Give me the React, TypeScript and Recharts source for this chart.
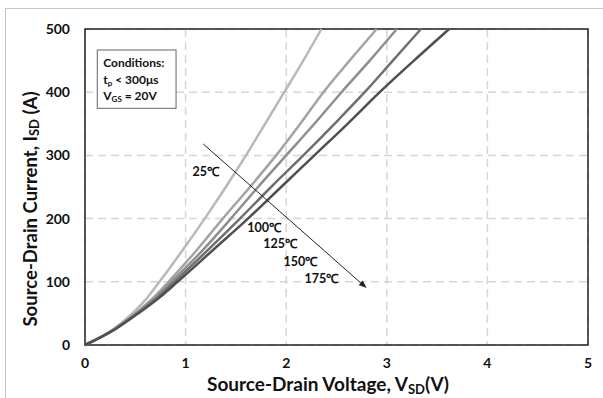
import React from 'react';
import {
    LineChart,
    Line,
    XAxis,
    YAxis,
    CartesianGrid,
    ReferenceArea,
    ReferenceLine,
    ReferenceDot
} from 'recharts';

// source-drain current steps (A), shared by all curves
const currents = [0, 25, 50, 75, 100, 150, 200, 250, 300, 350, 400, 450, 500];

// V_SD (V) at the currents above
const v25 = [0, 0.28, 0.47, 0.62, 0.74, 0.97, 1.19, 1.4, 1.6, 1.79, 1.98, 2.17, 2.35];
const v100 = [0, 0.29, 0.5, 0.68, 0.83, 1.11, 1.37, 1.64, 1.9, 2.14, 2.37, 2.63, 2.9];
const v125 = [0, 0.29, 0.51, 0.7, 0.86, 1.17, 1.45, 1.72, 2.0, 2.28, 2.55, 2.83, 3.1];
const v150 = [0, 0.3, 0.52, 0.72, 0.89, 1.22, 1.54, 1.85, 2.17, 2.48, 2.78, 3.06, 3.34];
const v175 = [0, 0.3, 0.53, 0.74, 0.92, 1.27, 1.62, 1.95, 2.28, 2.61, 2.93, 3.27, 3.62];

const xTicks = [0, 1, 2, 3, 4, 5];
const yTicks = [0, 100, 200, 300, 400, 500];

const tempLabels = ['25℃', '100℃', '125℃', '150℃', '175℃'];
const labelX = [1.2, 1.78, 1.94, 2.14, 2.35];
const labelY = [275, 186, 161, 132, 105];

const FONT = 'Lato, "Liberation Sans", sans-serif';

const series = [
    { name: '25', v: v25, color: '#b9b9b9' },
    { name: '100', v: v100, color: '#a3a3a3' },
    { name: '125', v: v125, color: '#8e8e8e' },
    { name: '150', v: v150, color: '#6f6f6f' },
    { name: '175', v: v175, color: '#4f4f4f' }
];

const toPoints = (v: number[]) => v.map((x, i) => ({ v: x, i: currents[i] }));

const ArrowShape = (props: any) => {
    const { x1, y1, x2, y2 } = props;
    if (x1 === undefined) return null;
    const ang = Math.atan2(y2 - y1, x2 - x1);
    const len = 8;
    const w = 3;
    const bx = x2 - len * Math.cos(ang);
    const by = y2 - len * Math.sin(ang);
    const px = -Math.sin(ang) * w;
    const py = Math.cos(ang) * w;
    return (
        <g>
            <line x1={x1} y1={y1} x2={bx} y2={by} stroke="#222" strokeWidth={1} />
            <polygon points={`${x2},${y2} ${bx + px},${by + py} ${bx - px},${by - py}`} fill="#222" />
        </g>
    );
};

const ConditionsBox = (props: any) => {
    const { x, y, width, height } = props;
    return (
        <g fontFamily={FONT} fontWeight="bold" fontSize={12} fill="#111">
            <rect x={x} y={y} width={width} height={height} fill="#fff" stroke="#666" strokeWidth={1} />
            <text x={x + 6} y={y + 17}>Conditions:</text>
            <text x={x + 6} y={y + 34}>
                t<tspan fontSize={8} dy={2}>p</tspan><tspan dy={-2}> &lt; 300μs</tspan>
            </text>
            <text x={x + 6} y={y + 50}>
                V<tspan fontSize={8} dy={2}>GS</tspan><tspan dy={-2}> = 20V</tspan>
            </text>
        </g>
    );
};

const YTitle = (props: any) => {
    const { viewBox } = props;
    const cx = 30;
    const cy = viewBox.y + viewBox.height / 2 + 22;
    return (
        <text
            x={cx}
            y={cy}
            transform={`rotate(-90, ${cx}, ${cy})`}
            textAnchor="middle"
            dominantBaseline="central"
            fontFamily={FONT}
            fontWeight="bold"
            fontSize={18.5}
            fill="#111"
        >
            Source-Drain Current, I<tspan fontSize={13} dy={4}>SD</tspan><tspan dy={-4}> (A)</tspan>
        </text>
    );
};

const XTitle = () => (
    <text x={328} y={391} textAnchor="middle" fontFamily={FONT} fontWeight="bold" fontSize={19} fill="#111">
        Source-Drain Voltage, V<tspan fontSize={13} dy={2.5}>SD</tspan><tspan dy={-2.5}>(V)</tspan>
    </text>
);

const tickStyle = { fontFamily: FONT, fontWeight: 'bold' as const, fontSize: 14, fill: '#111' };

export default function App() {
    return (
        <div style={{ position: 'absolute', left: 0, top: 0, width: 603, height: 398, background: '#fff' }}>
            <div style={{
                position: 'absolute', left: 5, top: 8, width: 598, height: 390,
                borderLeft: '1px solid #c4c4c4', borderTop: '1px solid #c4c4c4'
            }} />
            <div style={{ position: 'absolute', left: 0, top: 0 }}>
                <LineChart width={603} height={398} margin={{ top: 29, right: 15, bottom: 23, left: 25 }}>
                    <CartesianGrid
                        stroke="#d6d6d6"
                        strokeDasharray="8 5"
                        strokeWidth={1.5}
                        horizontalValues={yTicks}
                        verticalValues={xTicks}
                    />
                    <XAxis
                        dataKey="v"
                        type="number"
                        domain={[0, 5]}
                        ticks={xTicks}
                        allowDataOverflow
                        axisLine={false}
                        tickLine={false}
                        tickMargin={7}
                        height={30}
                        tick={tickStyle}
                    />
                    <YAxis
                        dataKey="i"
                        type="number"
                        domain={[0, 500]}
                        ticks={yTicks}
                        axisLine={false}
                        tickLine={false}
                        tickMargin={9}
                        width={60}
                        tick={tickStyle}
                        label={<YTitle />}
                    />
                    {series.map(s => (
                        <Line
                            key={s.name}
                            data={toPoints(s.v)}
                            dataKey="i"
                            type="monotone"
                            stroke={s.color}
                            strokeWidth={2.5}
                            dot={false}
                            isAnimationActive={false}
                        />
                    ))}
                    <ReferenceArea x1={0} x2={5} y1={0} y2={500} fill="none" stroke="#222" strokeWidth={1.5} fillOpacity={0} />
                    <ReferenceArea x1={0.122} x2={0.905} y1={374.5} y2={466.8} shape={<ConditionsBox />} />
                    <ReferenceLine
                        segment={[{ x: 1.176, y: 318 }, { x: 2.8, y: 90 }]}
                        shape={<ArrowShape />}
                    />
                    {tempLabels.map((t, k) => (
                        <ReferenceDot
                            key={t}
                            x={labelX[k]}
                            y={labelY[k]}
                            r={0}
                            stroke="none"
                            fill="none"
                            label={{ value: t, position: 'center', ...tickStyle, fontSize: 12.5 }}
                        />
                    ))}
                    <XTitle />
                </LineChart>
            </div>
        </div>
    );
}
